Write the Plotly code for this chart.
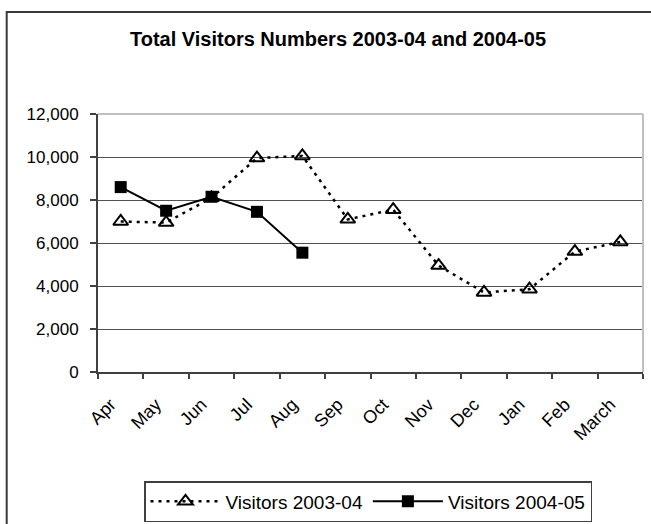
import plotly.graph_objects as go

months = ["Apr", "May", "Jun", "Jul", "Aug", "Sep", "Oct", "Nov", "Dec", "Jan", "Feb", "March"]
visitors_2003_04 = [7000, 6950, 8100, 9950, 10050, 7100, 7550, 4950, 3700, 3850, 5600, 6050]
months_2004_05 = ["Apr", "May", "Jun", "Jul", "Aug"]
visitors_2004_05 = [8600, 7500, 8150, 7450, 5550]
y_ticks = [0, 2000, 4000, 6000, 8000, 10000, 12000]

FONT = "Liberation Sans, Arial, sans-serif"

fig = go.Figure()
fig.add_trace(go.Scatter(
    x=months, y=visitors_2003_04, name="Visitors 2003-04", mode="lines+markers",
    line=dict(color="black", width=2.5, dash="3px,5px"),
    marker=dict(symbol="triangle-up-open", size=13, color="black", line=dict(width=2, color="black")),
))
fig.add_trace(go.Scatter(
    x=months_2004_05, y=visitors_2004_05, name="Visitors 2004-05", mode="lines+markers",
    line=dict(color="black", width=2),
    marker=dict(symbol="square", size=12, color="black"),
))

L, R, T, B = 98, 651 - 643, 114, 524 - 372
pw = 651 - L - R
ph = 524 - T - B

fig.update_layout(
    width=651, height=524,
    margin=dict(l=L, r=R, t=T, b=B, autoexpand=False),
    paper_bgcolor="white", plot_bgcolor="white",
    font=dict(family=FONT, color="black", size=17),
    title=dict(text="<b>Total Visitors Numbers 2003-04 and 2004-05</b>",
               x=338 / 651, xanchor="center", xref="container",
               y=1 - 39 / 524, yanchor="middle", yref="container",
               font=dict(size=20, family=FONT, color="black")),
    showlegend=True,
    legend=dict(orientation="h", x=(144 - L) / pw, y=-(481 - 372) / ph,
                xanchor="left", yanchor="top",
                bordercolor="#404040", borderwidth=1.5, bgcolor="white",
                font=dict(size=19, family=FONT), itemwidth=70,
                entrywidth=0, entrywidthmode="pixels"),
    xaxis=dict(type="category", categoryorder="array", categoryarray=months,
               range=[-0.5, 11.5], automargin=False,
               showline=True, linecolor="#404040", linewidth=2,
               ticks="outside", ticklen=5, tickcolor="#404040", tickwidth=1.5,
               tickson="boundaries", tickangle=-45, showgrid=False,
               ticklabelstandoff=13, ticklabelshift=-10,
               tickfont=dict(size=18, family=FONT)),
    yaxis=dict(range=[0, 12000], tickvals=y_ticks, tickformat=",", automargin=False,
               showline=True, linecolor="#404040", linewidth=2,
               ticks="outside", ticklen=6, tickcolor="#404040", tickwidth=1.5,
               showgrid=True, gridcolor="#505050", gridwidth=1, zeroline=False,
               ticklabelstandoff=8,
               tickfont=dict(size=17, family=FONT)),
    shapes=[
        dict(type="rect", xref="paper", yref="paper",
             x0=(6.7 - L) / pw, x1=1.2, y0=-1.0, y1=(372 - 12) / ph,
             line=dict(color="#3a3a3a", width=2), fillcolor="rgba(0,0,0,0)", layer="below"),
        dict(type="line", xref="paper", yref="paper", x0=0, x1=1, y0=1, y1=1,
             line=dict(color="#c0c0c0", width=2), layer="above"),
        dict(type="line", xref="paper", yref="paper", x0=1, x1=1, y0=0, y1=1,
             line=dict(color="#c0c0c0", width=2), layer="above"),
    ],
)

fig.write_html("out.html", config={"displayModeBar": False},
               post_script="document.body.style.margin='0';document.body.style.overflow='hidden';")
